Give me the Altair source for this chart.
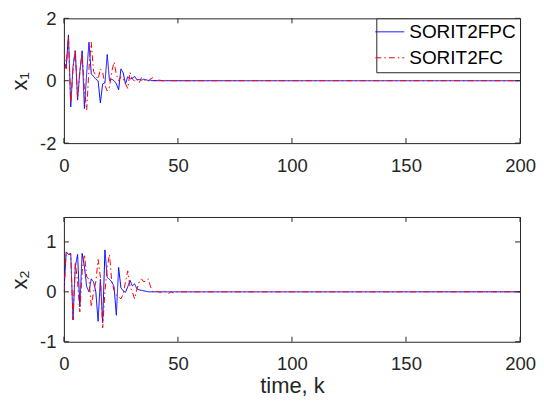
import altair as alt
import pandas as pd

# ---- data (k = 0 .. 200, values after the listed part are 0) ----
N_K = 201
series_names = ["SORIT2FPC", "SORIT2FC"]

x1_fpc = [0.6, 0.4, 1.47, -0.84, 0.45, 0.96, -0.62, 0.3, 0.96, -0.89, 0.25, 1.23,
          0.22, 0.14, 0.05, 0.0, -0.71, -0.1, -0.07, 0.84, 0.0, 0.05, 0.0, -0.1,
          -0.29, 0.38, 0.25, -0.1, 0.13, 0.06, 0.08, 0.14, 0.03, 0.04, 0.02, 0.05,
          0.03, 0.01, 0.02, 0.0, 0.01]
x1_fc = [0.96, 0.38, 1.44, -0.73, 0.4, 1.0, -0.57, 0.3, 0.86, -0.3, -0.94, 0.4,
         1.23, 0.3, 0.17, 0.05, 0.38, 0.28, -0.15, -0.33, -0.2, 0.3, 0.6, 0.2,
         0.0, 0.13, 0.06, -0.1, -0.25, 0.27, 0.05, -0.01, 0.06, -0.07, 0.1, 0.03,
         0.01, -0.01, 0.06, 0.1, -0.03, 0.01, 0.02, 0.0, -0.01, 0.01]
x2_fpc = [0.0, 0.8, 0.75, 0.77, -0.56, 0.5, 0.75, -0.3, 0.77, 0.5, 0.1, 0.0,
          0.26, 0.2, 0.0, -0.59, 0.25, -0.62, 0.84, 0.29, 0.25, 0.2, 0.1, -0.47,
          0.49, 0.08, 0.02, -0.01, 0.1, 0.23, 0.12, 0.16, 0.06, 0.04, 0.03, 0.02,
          0.01]
x2_fc = [0.0, 0.8, 0.75, 0.75, -0.56, 0.6, 0.2, -0.4, 0.4, 0.75, 0.3, 0.25,
         -0.3, 0.0, 0.2, 0.65, 0.3, -0.72, 0.0, 0.5, 0.75, 0.2, 0.03, -0.07,
         -0.1, -0.14, -0.05, 0.2, 0.42, 0.1, 0.0, -0.14, 0.05, 0.2, 0.26, 0.2,
         0.22, 0.26, 0.1, 0.0, 0.0, 0.01, -0.01, 0.0, 0.02, -0.02, -0.03, 0.0,
         -0.02, 0.0, 0.0]

x_ticks = [0, 50, 100, 150, 200]
y1_ticks = [-2, 0, 2]
y2_ticks = [-1, 0, 1]

FONT = "Liberation Sans"
INK = "#262626"
W, H = 457, 125
TICK = 5


def padded(vals):
    return list(vals) + [0.0] * (N_K - len(vals))


def long_df(a, b):
    rows = []
    for name, vals in zip(series_names, (a, b)):
        for k, v in enumerate(padded(vals)):
            rows.append({"k": k, "v": v, "series": name})
    return pd.DataFrame(rows)


def panel(df, ydom, yticks, ytitle, xtitle):
    xs = alt.Scale(domain=[0, 200], nice=False, zero=False)
    ys = alt.Scale(domain=ydom, nice=False, zero=False)
    xax = alt.Axis(values=x_ticks, ticks=False, tickSize=0, domain=False, grid=False,
                   labelFlush=False, labelPadding=13, title=xtitle, titlePadding=2.5,
                   labelExpr="datum.value + ''")
    yax = alt.Axis(values=yticks, ticks=False, tickSize=0, domain=False, grid=False,
                   labelFlush=False, labelPadding=8, title=ytitle, titlePadding=8,
                   labelExpr="datum.value + ''")
    lines = alt.Chart(df).mark_line(strokeWidth=1, clip=True).encode(
        x=alt.X("k:Q", scale=xs, axis=xax, title=xtitle),
        y=alt.Y("v:Q", scale=ys, axis=yax, title=ytitle),
        color=alt.Color("series:N", scale=alt.Scale(domain=series_names, range=["#0000ff", "#ff0000"]),
                        legend=alt.Legend(title=None, orient="top-right", offset=0)),
        strokeDash=alt.StrokeDash("series:N", scale=alt.Scale(domain=series_names, range=[[1, 0], [6, 3, 1.5, 3]]),
                                  legend=alt.Legend(title=None, orient="top-right", offset=0)),
    )
    xt = pd.DataFrame({"t": x_ticks})
    yt = pd.DataFrame({"t": yticks})
    xb = alt.Chart(xt).mark_rule(color=INK, strokeWidth=1).encode(
        x=alt.X("t:Q", scale=xs, axis=xax, title=xtitle), y=alt.value(H), y2=alt.value(H - TICK))
    xtp = alt.Chart(xt).mark_rule(color=INK, strokeWidth=1).encode(
        x=alt.X("t:Q", scale=xs, axis=xax, title=xtitle), y=alt.value(0), y2=alt.value(TICK))
    yl = alt.Chart(yt).mark_rule(color=INK, strokeWidth=1).encode(
        y=alt.Y("t:Q", scale=ys, axis=yax, title=ytitle), x=alt.value(0), x2=alt.value(TICK))
    yr = alt.Chart(yt).mark_rule(color=INK, strokeWidth=1).encode(
        y=alt.Y("t:Q", scale=ys, axis=yax, title=ytitle), x=alt.value(W - TICK), x2=alt.value(W))
    return alt.layer(lines, xb, xtp, yl, yr).properties(width=W, height=H)


top = panel(long_df(x1_fpc, x1_fc), [-2, 2], y1_ticks, "x₁", None)
bottom = panel(long_df(x2_fpc, x2_fc), [-1, 1.5], y2_ticks, "x₂", "time, k")

chart = alt.vconcat(top, bottom, spacing=74, bounds="flush").properties(
    padding={"left": 0, "top": 0, "right": 0, "bottom": 0}
).configure_view(stroke=INK, strokeWidth=1).configure_axis(
    labelFont=FONT, titleFont=FONT, labelFontSize=18.5, titleFontSize=22,
    labelColor=INK, titleColor=INK, titleFontWeight="normal"
).configure_legend(
    labelFont=FONT, labelFontSize=19, labelColor="black", symbolType="M-2,0L2,0",
    symbolSize=210, symbolStrokeWidth=1, strokeColor=INK, fillColor="white",
    padding=4, rowPadding=6, labelOffset=10, cornerRadius=0
)

chart.save("out.html", embed_options={"renderer": "svg", "actions": False})
